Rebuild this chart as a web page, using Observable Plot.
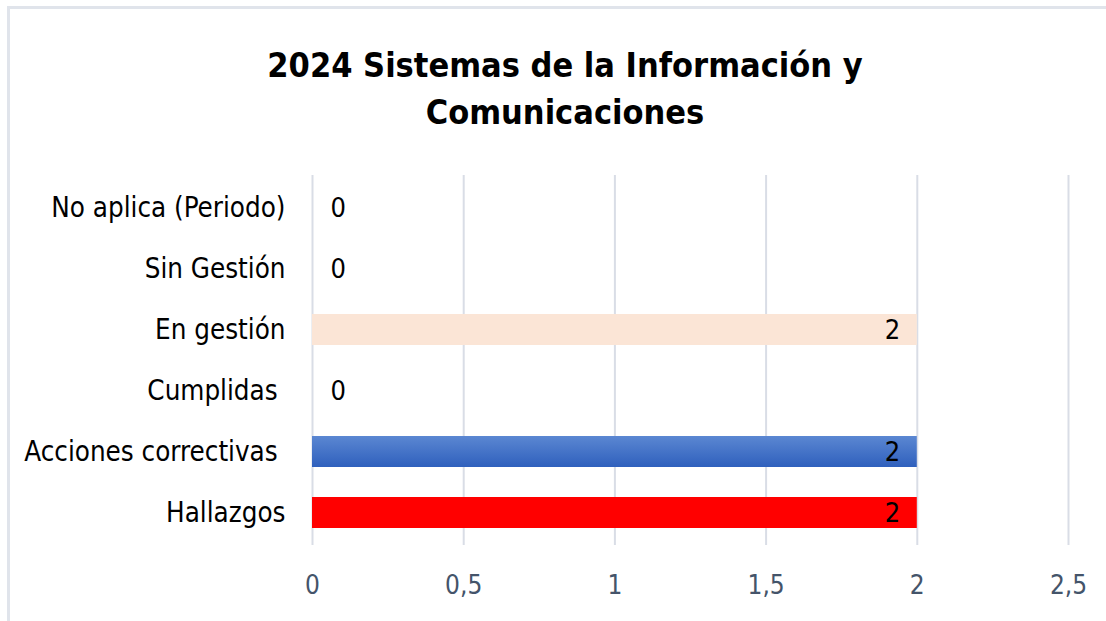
<!DOCTYPE html>
<html>
<head>
<meta charset="utf-8">
<script src="https://cdn.jsdelivr.net/npm/d3@7"></script>
<script src="https://cdn.jsdelivr.net/npm/@observablehq/plot@0.6"></script>
<style>
  html, body { margin: 0; padding: 0; background: #fff; overflow: hidden; }
  #frame { position: absolute; left: 7px; top: 6px; width: 1110px; height: 630px;
           border-top: 3px solid #e0e4eb; border-left: 3px solid #e0e4eb; }
  #title { position: absolute; left: 0; width: 1130px; top: 42px; text-align: center;
           font-family: "DejaVu Sans Condensed", sans-serif;
           font-weight: bold; font-size: 34px; line-height: 47px; color: #000; }
  #chart { position: absolute; left: 0; top: 150px; }
  #chart svg text { white-space: pre; }
</style>
</head>
<body>
<div id="frame"></div>
<div id="title">2024 Sistemas de la Información y<br>Comunicaciones</div>
<div id="chart"></div>
<script>
const categories = ["No aplica (Periodo)", "Sin Gestión", "En gestión", "Cumplidas ", "Acciones correctivas ", "Hallazgos"];
const values = [0, 0, 2, 0, 2, 2];
const xTicks = [0, 0.5, 1, 1.5, 2, 2.5];
const barColors = ["#ffffff", "#ffffff", "#fbe5d6", "#ffffff", "#4472c4", "#ff0000"];

const data = categories.map((c, i) => ({cat: c, value: values[i], color: barColors[i]}));
const font = "'DejaVu Sans Condensed', sans-serif";

const chart = Plot.plot({
  width: 1106,
  height: 470,
  marginLeft: 312,
  marginRight: 38,
  marginTop: 25,
  marginBottom: 75,
  style: {fontFamily: font, background: "transparent"},
  x: {domain: [0, 2.5], label: null},
  y: {domain: categories, paddingInner: 0.5, paddingOuter: 0.28, label: null},
  marks: [
    Plot.gridX(xTicks, {stroke: "#d9dde6", strokeOpacity: 1, strokeWidth: 2}),
    Plot.barX(data.filter(d => d.value > 0), {y: "cat", x: "value", fill: d => d.color}),
    Plot.text(data.filter(d => d.value > 0), {y: "cat", x: "value", text: d => String(d.value), textAnchor: "end", dx: -17, fontSize: 27, fill: "#000"}),
    Plot.text(data.filter(d => d.value === 0), {y: "cat", x: "value", text: d => String(d.value), textAnchor: "start", dx: 18, fontSize: 27, fill: "#000"}),
    Plot.axisX({ticks: xTicks, tickSize: 0, tickPadding: 30, fontSize: 26, color: "#44546a", label: null, tickFormat: d => String(d).replace(".", ",")}),
    Plot.axisY({tickSize: 0, tickPadding: 27, fontSize: 27.5, color: "#000", label: null})
  ]
});

// blue gradient for "Acciones correctivas"
const svg = d3.select(chart);
const defs = svg.insert("defs", ":first-child");
const grad = defs.append("linearGradient").attr("id", "blueGrad").attr("x1", 0).attr("y1", 0).attr("x2", 0).attr("y2", 1);
grad.append("stop").attr("offset", "0%").attr("stop-color", "#5b87d2");
grad.append("stop").attr("offset", "100%").attr("stop-color", "#2f60bd");
svg.selectAll("rect").filter(function() { return (this.getAttribute("fill") || "").toLowerCase() === "#4472c4"; })
   .attr("fill", "url(#blueGrad)");

document.getElementById("chart").appendChild(chart);
</script>
</body>
</html>
